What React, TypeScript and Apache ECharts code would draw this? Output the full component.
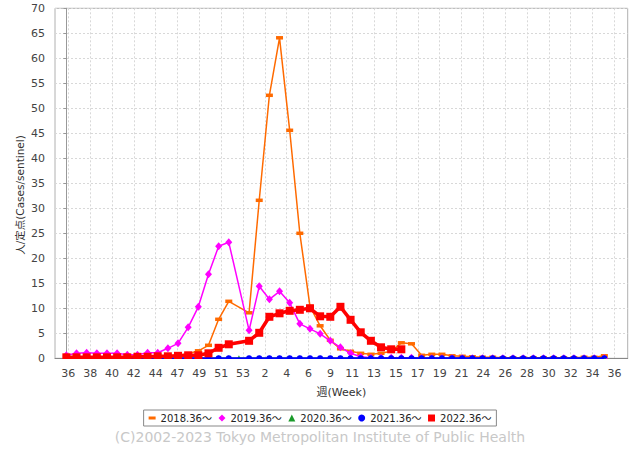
import React, { useEffect, useRef } from "react";
import * as echarts from "echarts";

// Week slots: slot 0 = week 36, slot 17 = week 53 (only 2020 season has it)
const seasonNames = ["2018.36〜", "2019.36〜", "2020.36〜", "2021.36〜", "2022.36〜"];

const xLabels = ["36", "38", "40", "42", "44", "47", "49", "51", "53", "2", "4", "6", "9", "11", "13", "15", "17", "19", "21", "24", "26", "28", "30", "32", "34", "36"];

const yTicksMax = 70;

const s2018: (number | null)[] = [
  0.2, 0.2, 0.2, 0.2, 0.2, 0.2, 0.2, 0.3, 0.3, 0.4, 0.5, 0.6, 0.9, 1.5, 2.6, 7.8, 11.4, null,
  9.1, 31.6, 52.6, 64.1, 45.6, 25.0, 10.4, 6.5, 3.6, 1.9, 1.4, 1.0, 0.8, 1.0, 1.4, 3.1, 2.9,
  0.6, 0.8, 0.8, 0.5, 0.4, 0.3, 0.2, 0.2, 0.1, 0.1, 0.1, 0.1, 0.1, 0.1, 0.1, 0.1, 0.2, 0.2, 0.5,
];

const s2019: (number | null)[] = [
  0.6, 1.0, 1.1, 1.0, 1.0, 1.0, 0.7, 0.7, 1.1, 1.1, 2.0, 3.0, 6.2, 10.3, 16.8, 22.4, 23.2, null,
  5.6, 14.4, 11.8, 13.4, 11.1, 6.9, 5.9, 4.9, 3.5, 2.2, 1.0, 0.3, 0.1, 0.1, 0.1, 0.1, 0.1,
  0.0, 0.0, 0.0, 0.0, 0.0, 0.0, 0.0, 0.0, 0.0, 0.0, 0.0, 0.0, 0.0, 0.0, 0.0, 0.0, 0.0, 0.0, 0.0,
];

const s2020: (number | null)[] = [
  0, 0, 0, 0, 0, 0, 0, 0, 0, 0, 0, 0, 0, 0, 0, 0, 0, 0,
  0, 0, 0, 0, 0, 0, 0, 0, 0, 0, 0, 0, 0, 0, 0, 0, 0,
  0, 0, 0, 0, 0, 0, 0, 0, 0, 0, 0, 0, 0, 0, 0, 0, 0, 0, 0,
];

const s2021: (number | null)[] = [
  0, 0, 0, 0, 0, 0, 0, 0, 0, 0, 0, 0, 0, 0, 0, 0, 0, null,
  0, 0, 0, 0, 0, 0, 0, 0, 0, 0, 0, 0, 0, 0, 0, 0, 0,
  0, 0, 0, 0, 0, 0, 0, 0, 0, 0, 0, 0, 0, 0, 0, 0, 0, 0, 0,
];

const s2022: (number | null)[] = [
  0.2, 0.2, 0.2, 0.2, 0.2, 0.2, 0.2, 0.3, 0.3, 0.4, 0.4, 0.5, 0.6, 0.6, 1.0, 2.1, 2.8, null,
  3.5, 5.1, 8.3, 9.0, 9.5, 9.7, 10.0, 8.4, 8.3, 10.3, 7.7, 5.2, 3.5, 2.2, 1.8, 1.8,
];

// axis geometry (in slot units)
const X_MIN = -1.12;
const X_MAX = 55.3;
const TICK0 = 0.19;
const TICK_STEP = 2.152;

const FONT = "'DejaVu Sans', 'Noto Sans CJK JP', sans-serif";

const toData = (arr: (number | null)[]) => arr.map((v, i) => [i, v === null ? "-" : v]);

export default function App() {
  const ref = useRef<HTMLDivElement>(null);
  useEffect(() => {
    if (!ref.current) return;
    const chart = echarts.init(ref.current, undefined, { renderer: "svg" });
    const tickVals = xLabels.map((_, k) => TICK0 + k * TICK_STEP);
    const option: any = {
      animation: false,
      grid: {
        left: 55,
        top: 8.3,
        width: 572.7,
        height: 350,
        show: true,
        borderColor: "#b0b0b0",
        borderWidth: 1,
        outerBoundsMode: "none",
        containLabel: false,
      },
      legend: {
        left: "center",
        top: 410,
        padding: [3, 5],
        itemGap: 6.5,
        itemWidth: 7,
        itemHeight: 7,
        borderColor: "#888",
        borderWidth: 1,
        textStyle: { fontSize: 10, color: "#222", fontFamily: FONT },
        data: [
          { name: seasonNames[0], icon: "path://M0,0h7v3h-7z" },
          { name: seasonNames[1], icon: "diamond" },
          { name: seasonNames[2], icon: "triangle" },
          { name: seasonNames[3], icon: "circle" },
          { name: seasonNames[4], icon: "rect" },
        ],
      },
      xAxis: {
        type: "value",
        min: X_MIN,
        max: X_MAX,
        offset: 5,
        name: "週(Week)",
        nameLocation: "middle",
        nameGap: 24,
        nameTextStyle: { fontSize: 11, color: "#333", fontFamily: FONT },
        axisLine: { show: true, lineStyle: { color: "#888", width: 1 } },
        axisTick: { show: true, length: 3, customValues: tickVals, lineStyle: { color: "#888" } },
        axisLabel: {
          customValues: tickVals,
          formatter: (v: number) => xLabels[Math.round((v - TICK0) / TICK_STEP)] ?? "",
          margin: 5,
          color: "#444",
          fontSize: 11,
          fontFamily: FONT,
        },
        splitLine: { show: true, lineStyle: { type: [2, 2], color: "#d8d8d8", width: 1 } },
      },
      yAxis: {
        type: "value",
        min: 0,
        max: yTicksMax,
        interval: 5,
        offset: 5,
        axisLine: { show: true, lineStyle: { color: "#999", width: 1 } },
        axisTick: { show: true, length: 3, lineStyle: { color: "#999" } },
        axisLabel: { margin: 5, color: "#444", fontSize: 11, fontFamily: FONT },
        splitLine: { show: true, lineStyle: { type: [2, 2], color: "#d8d8d8", width: 1 } },
      },
      series: [
        {
          name: seasonNames[0],
          type: "line",
          data: toData(s2018),
          connectNulls: true,
          symbol: "rect",
          symbolSize: [7, 3.5],
          lineStyle: { width: 1.5, color: "#ff6a00" },
          itemStyle: { color: "#ff6a00" },
          z: 2,
        },
        {
          name: seasonNames[1],
          type: "line",
          data: toData(s2019),
          connectNulls: true,
          symbol: "diamond",
          symbolSize: [7, 8],
          lineStyle: { width: 1.5, color: "#ff00ff" },
          itemStyle: { color: "#ff00ff" },
          z: 3,
        },
        {
          name: seasonNames[2],
          type: "line",
          data: toData(s2020),
          connectNulls: true,
          symbol: "triangle",
          symbolSize: 6,
          lineStyle: { width: 1.5, color: "#1a9a2a" },
          itemStyle: { color: "#1a9a2a" },
          z: 4,
        },
        {
          name: seasonNames[3],
          type: "line",
          data: toData(s2021),
          connectNulls: true,
          symbol: "path://M0 5A5 5 0 0 1 10 5Z",
          symbolSize: [6, 3],
          symbolOffset: [0, -1.5],
          lineStyle: { width: 2, color: "#0000ff" },
          itemStyle: { color: "#0000ff" },
          z: 5,
        },
        {
          name: seasonNames[4],
          type: "line",
          data: toData(s2022),
          connectNulls: true,
          symbol: "rect",
          symbolSize: 8,
          lineStyle: { width: 3.5, color: "#ff0000" },
          itemStyle: { color: "#ff0000" },
          z: 6,
        },
      ],
      graphic: [
        {
          type: "rect",
          z: 100,
          shape: { x: 52, y: 358.9, width: 577, height: 4 },
          style: { fill: "#ffffff" },
        },
        {
          type: "text",
          x: 20,
          y: 195,
          rotation: Math.PI / 2,
          z: 100,
          style: {
            text: "人/定点(Cases/sentinel)",
            fill: "#333",
            fontSize: 10.5,
            fontFamily: FONT,
            align: "center",
            verticalAlign: "middle",
          },
        },
        {
          type: "text",
          left: "center",
          top: 430,
          z: 100,
          style: {
            text: "(C)2002-2023 Tokyo Metropolitan Institute of Public Health",
            fill: "#c8c8c8",
            fontSize: 14,
            fontFamily: FONT,
          },
        },
      ],
    };
    chart.setOption(option);
    return () => chart.dispose();
  }, []);
  return (
    <div
      ref={ref}
      style={{ position: "absolute", left: 0, top: 0, width: 640, height: 450 }}
    />
  );
}
